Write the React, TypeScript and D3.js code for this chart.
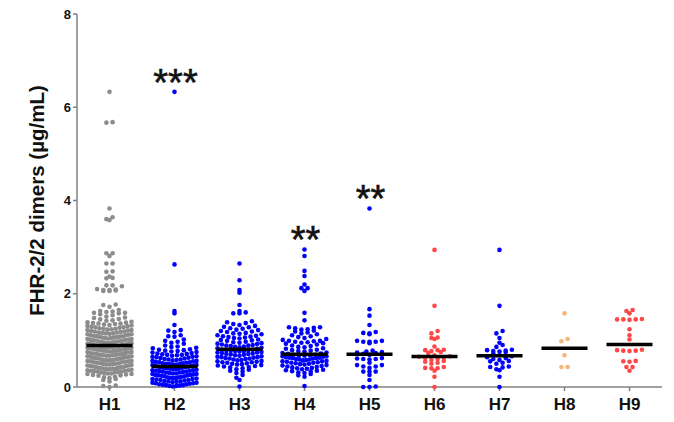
import React from "react";
import * as d3 from "d3";

// Group labels along the x axis
const CATEGORIES = ["H1", "H2", "H3", "H4", "H5", "H6", "H7", "H8", "H9"];

// FHR-2/2 dimer concentrations (µg/mL), one array per group
const H1 = [
  6.33, 5.68, 5.67, 3.83, 3.64, 3.6, 3.58, 2.87, 2.87, 2.81, 2.65, 2.65, 2.48, 2.47, 2.37, 2.34, 2.33,
  2.18, 2.18, 2.16, 2.1, 2.09, 2.08, 2.08, 2.07, 2.06, 2.06,
  0.0, 0.02, 0.03,
  0.12, 0.15, 0.17, 0.19,
  0.21, 0.22, 0.24, 0.25, 0.26, 0.27, 0.28, 0.28, 0.29, 0.29,
  0.3, 0.31, 0.31, 0.32, 0.33, 0.33, 0.34, 0.35, 0.35, 0.36, 0.36, 0.37, 0.38, 0.38, 0.39, 0.39, 0.39,
  0.4, 0.41, 0.41, 0.42, 0.43, 0.43, 0.44, 0.45, 0.45, 0.46, 0.46, 0.47, 0.48, 0.48, 0.49, 0.49,
  0.5, 0.51, 0.51, 0.52, 0.53, 0.53, 0.54, 0.55, 0.55, 0.56, 0.56, 0.57, 0.57, 0.58, 0.58, 0.59, 0.59,
  0.6, 0.61, 0.61, 0.62, 0.63, 0.63, 0.64, 0.65, 0.65, 0.66, 0.66, 0.67, 0.67, 0.68, 0.68, 0.69, 0.69,
  0.7, 0.71, 0.71, 0.72, 0.73, 0.73, 0.74, 0.75, 0.75, 0.76, 0.76, 0.77, 0.77, 0.78, 0.78, 0.79, 0.79,
  0.8, 0.8, 0.81, 0.81, 0.82, 0.82, 0.83, 0.83, 0.84, 0.84, 0.85, 0.85, 0.86, 0.86, 0.87, 0.87, 0.88,
  0.89, 0.9, 0.91, 0.91, 0.92, 0.93, 0.93, 0.94, 0.95, 0.95, 0.96, 0.96, 0.97, 0.97, 0.98, 0.99, 0.99,
  1.0, 1.01, 1.01, 1.02, 1.03, 1.03, 1.04, 1.05, 1.05, 1.06, 1.06, 1.07, 1.08, 1.08, 1.09, 1.09,
  1.1, 1.11, 1.11, 1.12, 1.13, 1.13, 1.14, 1.15, 1.15, 1.16, 1.17, 1.17, 1.18, 1.19, 1.19,
  1.2, 1.21, 1.22, 1.22, 1.23, 1.24, 1.25, 1.25, 1.26, 1.27, 1.28, 1.28, 1.29,
  1.3, 1.31, 1.32, 1.33, 1.34, 1.35, 1.36, 1.36, 1.37, 1.38, 1.39,
  1.4, 1.42, 1.43, 1.45, 1.46, 1.48, 1.49,
  1.51, 1.54, 1.56, 1.58, 1.59, 1.59,
  1.61, 1.62, 1.63, 1.65,
  1.72, 1.76, 1.77,
];

const H2 = [
  6.33, 2.63, 1.63, 1.58, 1.33, 1.22, 1.21, 1.18, 1.11, 1.09, 1.08, 1.02, 0.99, 0.97, 0.95, 0.93,
  0.01, 0.02, 0.02, 0.03, 0.04, 0.04, 0.05, 0.06, 0.06, 0.07, 0.08, 0.08, 0.09, 0.09,
  0.1, 0.11, 0.12, 0.12, 0.13, 0.14, 0.15, 0.15, 0.16, 0.17, 0.17, 0.18, 0.19, 0.19,
  0.2, 0.21, 0.21, 0.22, 0.23, 0.23, 0.24, 0.25, 0.25, 0.26, 0.26, 0.27, 0.28, 0.28, 0.29, 0.29,
  0.3, 0.31, 0.31, 0.32, 0.33, 0.33, 0.34, 0.35, 0.35, 0.36, 0.36, 0.37, 0.38, 0.38, 0.39, 0.39,
  0.4, 0.41, 0.41, 0.42, 0.42, 0.43, 0.43, 0.44, 0.44,
  0.45, 0.46, 0.46, 0.47, 0.47, 0.48, 0.48, 0.49, 0.49,
  0.5, 0.51, 0.51, 0.52, 0.53, 0.53, 0.54, 0.55, 0.56, 0.56, 0.57, 0.58, 0.59, 0.59,
  0.6, 0.61, 0.62, 0.63, 0.64, 0.65, 0.65, 0.66, 0.67, 0.68, 0.69, 0.69,
  0.7, 0.71, 0.72, 0.73, 0.74, 0.75, 0.76, 0.77, 0.78, 0.79,
  0.8, 0.81, 0.83, 0.84, 0.86, 0.87, 0.89,
];

const H3 = [
  2.65, 2.29, 2.08, 2.02, 1.76, 1.63, 1.6, 1.58, 1.58,
  0.01, 0.15, 0.2, 0.26, 0.3, 0.33, 0.35, 0.37, 0.38, 0.4,
  0.42, 0.43, 0.44, 0.45, 0.46, 0.47, 0.48, 0.49,
  0.5, 0.51, 0.52, 0.53, 0.53, 0.54, 0.55, 0.56, 0.57, 0.58, 0.59,
  0.6, 0.61, 0.61, 0.62, 0.63, 0.64, 0.64, 0.65, 0.66, 0.67, 0.68, 0.69,
  0.7, 0.71, 0.71, 0.72, 0.73, 0.74, 0.74, 0.75, 0.76, 0.77, 0.77, 0.78, 0.79, 0.79, 0.8, 0.8,
  0.82, 0.83, 0.84, 0.85, 0.86, 0.87, 0.88, 0.89, 0.89,
  0.9, 0.91, 0.92, 0.93, 0.94, 0.95, 0.96, 0.97, 0.99,
  1.0, 1.01, 1.02, 1.04, 1.05, 1.06, 1.07, 1.08, 1.09,
  1.1, 1.11, 1.13, 1.14, 1.15, 1.16, 1.18, 1.19,
  1.2, 1.22, 1.23, 1.25, 1.26, 1.28, 1.29,
  1.31, 1.33, 1.35, 1.37, 1.39, 1.41,
];

const H4 = [
  2.95, 2.81, 2.49, 2.38, 2.2, 2.12, 2.12, 2.06, 1.59, 1.43,
  0.02, 0.22, 0.25, 0.28,
  0.3, 0.31, 0.33, 0.34, 0.35, 0.36, 0.37, 0.38, 0.39,
  0.4, 0.41, 0.42, 0.43, 0.44, 0.45, 0.46, 0.47, 0.48, 0.49,
  0.5, 0.51, 0.52, 0.52, 0.53, 0.54, 0.55, 0.55, 0.56, 0.57, 0.58, 0.59, 0.59,
  0.6, 0.61, 0.62, 0.62, 0.63, 0.63, 0.64, 0.65, 0.66, 0.66, 0.67, 0.67, 0.68, 0.69, 0.69,
  0.71, 0.72, 0.73, 0.74, 0.76, 0.77, 0.78, 0.79,
  0.8, 0.82, 0.83, 0.85, 0.86, 0.88, 0.89,
  0.91, 0.93, 0.94, 0.95, 0.96, 0.97, 0.98, 0.99, 0.99,
  1.01, 1.03, 1.05, 1.07, 1.09,
  1.11, 1.13, 1.15, 1.17, 1.19,
  1.21, 1.23, 1.24, 1.26, 1.27, 1.28, 1.28,
];

const H5 = [
  3.83, 1.67, 1.53, 1.33, 1.18, 1.16, 1.15, 1.13, 0.99, 0.99, 0.97, 0.97, 0.97, 0.94,
  0.78, 0.76, 0.75, 0.74, 0.73, 0.71, 0.69,
  0.62, 0.61, 0.6, 0.6, 0.59, 0.52,
  0.47, 0.47, 0.44, 0.44, 0.41, 0.33, 0.33, 0.33,
  0.26, 0.15, 0.0, 0.01, 0.0,
];

const H6 = [
  2.94, 1.74, 1.2, 1.15, 1.06, 1.05, 1.03, 0.87, 0.8, 0.79, 0.79, 0.77, 0.75, 0.73,
  0.68, 0.66, 0.65, 0.64, 0.62, 0.6, 0.58, 0.56, 0.54, 0.52, 0.5,
  0.43, 0.41, 0.4, 0.4, 0.35, 0.22, 0.0,
];

const H7 = [
  2.94, 1.74, 1.2, 1.15, 1.05, 0.95, 0.9, 0.86, 0.8, 0.79, 0.78, 0.77, 0.76, 0.75, 0.72,
  0.68, 0.66, 0.64, 0.62, 0.6, 0.58, 0.56, 0.55, 0.52, 0.5,
  0.44, 0.43, 0.42, 0.38, 0.36, 0.22, 0.0,
];

const H8 = [1.58, 1.03, 0.98, 0.68, 0.43, 0.43];

const H9 = [
  1.65, 1.63, 1.58, 1.46, 1.45, 1.45, 1.45, 1.44, 1.24, 1.11, 1.02,
  0.8, 0.79, 0.78, 0.78, 0.77, 0.56, 0.55, 0.54, 0.43, 0.43, 0.35,
];

const SERIES = [H1, H2, H3, H4, H5, H6, H7, H8, H9];

// Significance markers vs. H1
const SIGNIFICANCE = ["", "***", "", "**", "**", "", "", "", ""];

const COLORS = ["#8c8c8c", "#0000ff", "#0000ff", "#0000ff", "#0000ff", "#ff4747", "#0000ff", "#f6b47a", "#ff4747"];

const Y_TICKS = [0, 2, 4, 6, 8];

const W = 674;
const H = 422;
const FONT = "'Liberation Sans', Arial, Helvetica, sans-serif";

const y = d3.scaleLinear().domain([0, 8]).range([387, 14]);
const x = d3.scaleBand<string>().domain(CATEGORIES).range([77, 662]).padding(0);

// Scatter layout: points keep their y, and points sharing a row are spread sideways
function scatterLayout(values: number[], cx: number) {
  const ROW = 4.4;
  const GAP = 6.2;
  const MAX_W = 44;
  const rows = d3.group(values, (v) => Math.floor((y(0) - y(v)) / ROW));
  const pts: { x: number; y: number }[] = [];
  rows.forEach((vals) => {
    const sorted = [...vals].sort((a, b) => a - b);
    const n = sorted.length;
    const step = n > 1 ? Math.min(GAP, MAX_W / (n - 1)) : 0;
    // slots from the middle outwards
    const slots = d3.range(n).map((i) => (i - (n - 1) / 2) * step);
    slots.sort((a, b) => Math.abs(a) - Math.abs(b) || a - b);
    sorted.forEach((v, i) => pts.push({ x: cx + slots[i], y: y(v) }));
  });
  return pts;
}

export default function App() {
  const groups = CATEGORIES.map((c, i) => {
    const cx = (x(c) ?? 0) + x.bandwidth() / 2;
    const vals = SERIES[i];
    return {
      name: c,
      cx,
      color: COLORS[i],
      pts: scatterLayout(vals, cx),
      median: d3.median(vals) ?? 0,
      max: d3.max(vals) ?? 0,
      sig: SIGNIFICANCE[i],
    };
  });

  return (
    <svg width={W} height={H} style={{ position: "absolute", left: 0, top: 0, background: "#fff" }} fontFamily={FONT}>
      {/* y axis */}
      <line x1={77} x2={77} y1={y(8)} y2={y(0)} stroke="#808080" strokeWidth={1.5} />
      {Y_TICKS.map((t) => (
        <g key={t}>
          <line x1={73} x2={77} y1={y(t)} y2={y(t)} stroke="#808080" strokeWidth={1.5} />
          <text x={71} y={y(t) + 4.6} textAnchor="end" fontSize={13} fontWeight="bold" fill="#111">
            {t}
          </text>
        </g>
      ))}
      <text
        transform={`translate(44, ${(y(0) + y(8)) / 2}) rotate(-90)`}
        textAnchor="middle"
        fontSize={20.5}
        fontWeight="bold"
        fill="#111"
      >
        FHR-2/2 dimers (µg/mL)
      </text>

      {/* x axis */}
      <line x1={77} x2={662} y1={y(0)} y2={y(0)} stroke="#808080" strokeWidth={1.5} />
      {groups.map((g) => (
        <g key={g.name}>
          <line x1={g.cx} x2={g.cx} y1={y(0)} y2={y(0) + 4} stroke="#808080" strokeWidth={1.5} />
          <text x={g.cx} y={410} textAnchor="middle" fontSize={17} fontWeight="bold" fill="#111">
            {g.name}
          </text>
        </g>
      ))}

      {/* points */}
      {groups.map((g) => (
        <g key={g.name + "-pts"} fill={g.color}>
          {g.pts.map((p, j) => (
            <circle key={j} cx={p.x} cy={p.y} r={2.3} />
          ))}
        </g>
      ))}

      {/* medians */}
      {groups.map((g) => (
        <line
          key={g.name + "-med"}
          x1={g.cx - 23}
          x2={g.cx + 23}
          y1={y(g.median)}
          y2={y(g.median)}
          stroke="#000"
          strokeWidth={3.5}
        />
      ))}

      {/* significance */}
      {groups
        .filter((g) => g.sig)
        .map((g) => (
          <text
            key={g.name + "-sig"}
            x={g.cx + 1}
            y={y(g.max) + 4}
            textAnchor="middle"
            fontSize={38}
            stroke="#111"
            strokeWidth={0.6}
            fill="#111"
          >
            {g.sig}
          </text>
        ))}
    </svg>
  );
}
